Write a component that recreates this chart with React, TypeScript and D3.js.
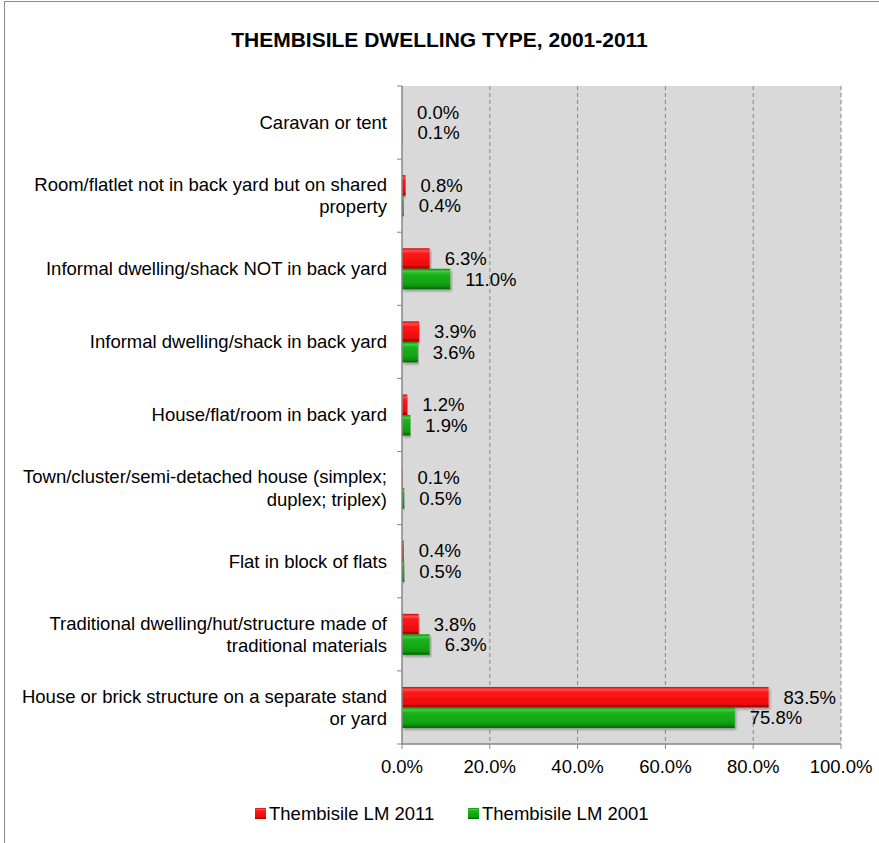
import React from "react";
import * as d3 from "d3";

const categories: string[][] = [
  ["Caravan or tent"],
  ["Room/flatlet not in back yard but on shared", "property"],
  ["Informal dwelling/shack NOT in back yard"],
  ["Informal dwelling/shack in back yard"],
  ["House/flat/room in back yard"],
  ["Town/cluster/semi-detached house (simplex;", "duplex; triplex)"],
  ["Flat in block of flats"],
  ["Traditional dwelling/hut/structure made of", "traditional materials"],
  ["House or brick structure on a separate stand", "or yard"],
];
const values2011: number[] = [0.0, 0.8, 6.3, 3.9, 1.2, 0.1, 0.4, 3.8, 83.5];
const values2001: number[] = [0.1, 0.4, 11.0, 3.6, 1.9, 0.5, 0.5, 6.3, 75.8];
const seriesNames: string[] = ["Thembisile LM 2011", "Thembisile LM 2001"];
const xTicks: number[] = [0, 20, 40, 60, 80, 100];
const title = "THEMBISILE DWELLING TYPE, 2001-2011";

const W = 879;
const H = 843;
const left = 402;
const right = 841;
const top = 86;
const bottom = 744;
const FONT = "'Liberation Sans', Arial, sans-serif";
const FS = 18.5;

export default function App() {
  const x = d3.scaleLinear().domain([0, 100]).range([left, right]);
  const y = d3
    .scaleBand<number>()
    .domain(d3.range(categories.length))
    .range([top, bottom])
    .paddingInner(0)
    .paddingOuter(0);
  const bw = y.bandwidth();
  const barH = 20.5;
  const series = [
    { name: seriesNames[0], values: values2011, grad: "gRed", key: "r" },
    { name: seriesNames[1], values: values2001, grad: "gGreen", key: "g" },
  ];
  return (
    <svg
      width={W}
      height={H}
      style={{ position: "absolute", left: 0, top: 0, display: "block" }}
    >
      <defs>
        <linearGradient id="gRed" x1="0" y1="0" x2="0" y2="1">
          <stop offset="0" stopColor="#d40000" />
          <stop offset="0.12" stopColor="#ff5050" />
          <stop offset="0.25" stopColor="#ff1a1a" />
          <stop offset="0.8" stopColor="#ee0a0a" />
          <stop offset="1" stopColor="#a00000" />
        </linearGradient>
        <linearGradient id="gGreen" x1="0" y1="0" x2="0" y2="1">
          <stop offset="0" stopColor="#078a07" />
          <stop offset="0.12" stopColor="#40d040" />
          <stop offset="0.25" stopColor="#1cb41c" />
          <stop offset="0.8" stopColor="#0f9e0f" />
          <stop offset="1" stopColor="#006400" />
        </linearGradient>
        <filter id="shadow" x="-5%" y="-20%" width="110%" height="160%">
          <feDropShadow dx="1.5" dy="2" stdDeviation="1.2" floodColor="#000" floodOpacity="0.3" />
        </filter>
      </defs>
      <rect x={0} y={0} width={W} height={H} fill="#fff" />
      <rect x={4.5} y={1.5} width={W + 10} height={H + 10} fill="#fff" stroke="#8c8c8c" strokeWidth={1} />
      <text
        x={439.5}
        y={47}
        textAnchor="middle"
        fontFamily={FONT}
        fontWeight="bold"
        fontSize={21}
        fill="#000"
      >
        {title}
      </text>
      <rect x={left} y={top} width={right - left} height={bottom - top} fill="#d9d9d9" />
      {xTicks.slice(1).map((t) => (
        <line
          key={"g" + t}
          x1={x(t)}
          x2={x(t)}
          y1={top}
          y2={bottom}
          stroke="#868686"
          strokeWidth={1}
          strokeDasharray="4,3"
        />
      ))}
      {series.map((s, si) =>
        s.values.map((v, i) => {
          const by = (y(i) as number) + bw / 2 - barH + si * barH;
          const w = Math.max(x(v) - x(0), 0);
          return (
            <g key={s.key + i}>
              {w > 0 && (
                <rect
                  x={x(0)}
                  y={by}
                  width={w}
                  height={barH}
                  fill={`url(#${s.grad})`}
                  filter="url(#shadow)"
                />
              )}
              <text
                x={x(v) + 15}
                y={by + barH / 2}
                dy="0.35em"
                fontFamily={FONT}
                fontSize={FS}
                fill="#000"
              >
                {v.toFixed(1) + "%"}
              </text>
            </g>
          );
        })
      )}
      {/* y axis */}
      <line x1={left} x2={left} y1={top} y2={bottom} stroke="#868686" strokeWidth={1.5} />
      {d3.range(categories.length + 1).map((i) => {
        const ty = i < categories.length ? (y(i) as number) : bottom;
        return (
          <line key={"yt" + i} x1={left - 5} x2={left} y1={ty} y2={ty} stroke="#868686" strokeWidth={1} />
        );
      })}
      {/* x axis */}
      <line x1={left} x2={right} y1={bottom} y2={bottom} stroke="#868686" strokeWidth={1.5} />
      {xTicks.map((t) => (
        <g key={"xt" + t}>
          <line x1={x(t)} x2={x(t)} y1={bottom} y2={bottom + 5} stroke="#868686" strokeWidth={1} />
          <text
            x={x(t)}
            y={bottom + 23}
            dy="0.35em"
            textAnchor="middle"
            fontFamily={FONT}
            fontSize={FS}
            fill="#000"
          >
            {t.toFixed(1) + "%"}
          </text>
        </g>
      ))}
      {/* category labels */}
      {categories.map((lines, i) => {
        const cy = (y(i) as number) + bw / 2;
        const lh = 22.5;
        const start = cy - ((lines.length - 1) * lh) / 2;
        return (
          <text
            key={"c" + i}
            textAnchor="end"
            fontFamily={FONT}
            fontSize={FS}
            fill="#000"
          >
            {lines.map((ln, k) => (
              <tspan key={k} x={387} y={start + k * lh} dy="0.35em">
                {ln}
              </tspan>
            ))}
          </text>
        );
      })}
      {/* legend */}
      {series.map((s, si) => {
        const lx = si === 0 ? 255 : 468;
        return (
          <g key={"lg" + si}>
            <rect x={lx} y={808} width={11} height={11} fill={`url(#${s.grad})`} />
            <text x={lx + 14} y={813.5} dy="0.35em" fontFamily={FONT} fontSize={FS} fill="#000">
              {s.name}
            </text>
          </g>
        );
      })}
    </svg>
  );
}
